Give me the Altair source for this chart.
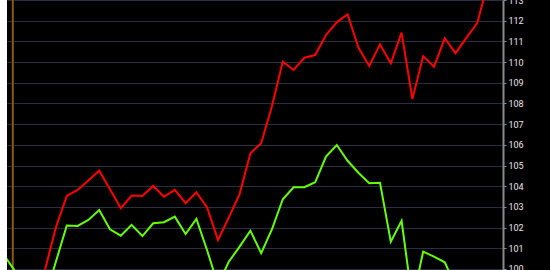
import altair as alt
import pandas as pd

# series values by index (index -5 .. 42)
idx = list(range(-5, 43))
red = [98.0, 97.8, 98.0, 98.5, 100.0,
       102.03, 103.53, 103.82, 104.28, 104.75, 103.85, 102.93, 103.55, 103.53, 104.01,
       103.49, 103.82, 103.18, 103.71, 102.96, 101.40, 102.48, 103.62, 105.59, 106.08,
       107.88, 110.02, 109.62, 110.21, 110.34, 111.31, 111.92, 112.31, 110.70, 109.81,
       110.86, 109.94, 111.42, 108.22, 110.29, 109.78, 111.15, 110.43, 111.17, 111.88,
       113.81, 114.3, 114.0]
green = [100.8, 100.05, 99.3, 98.9, 98.6,
         100.37, 102.10, 102.08, 102.37, 102.85, 101.92, 101.61, 102.13, 101.59, 102.21,
         102.26, 102.53, 101.69, 102.42, 100.89, 99.23, 100.35, 101.08, 101.85, 100.76,
         101.92, 103.37, 103.95, 103.95, 104.19, 105.43, 105.99, 105.23, 104.65, 104.14,
         104.17, 101.32, 102.33, 98.45, 100.84, 100.60, 100.32, 99.18, 98.8, 98.5,
         98.9, 99.2, 99.0]
y_ticks = list(range(100, 114))
marker_index = -4

df = pd.concat([
    pd.DataFrame({"i": idx, "v": red, "s": "A"}),
    pd.DataFrame({"i": idx, "v": green, "s": "B"}),
])

xs = alt.Scale(domain=[-4.537, 41.39], nice=False, zero=False)
ys = alt.Scale(domain=[99.95, 113.0], nice=False, zero=False)

edge = alt.Chart(alt.Data(values=[{"a": 1}])).mark_rect(color="white", clip=False).encode(
    x=alt.value(-7), x2=alt.value(0), y=alt.value(0), y2=alt.value(270)
)

rule = alt.Chart(pd.DataFrame({"i": [marker_index]})).mark_rule(
    color="#8a5a0c", strokeWidth=2
).encode(x=alt.X("i:Q", scale=xs, axis=None))

lines = alt.Chart(df).mark_line(strokeWidth=2, clip=True).encode(
    x=alt.X("i:Q", scale=xs, axis=None),
    y=alt.Y("v:Q", scale=ys, axis=alt.Axis(
        orient="right", values=y_ticks, title=None, grid=True,
        gridColor="#2a2e42", gridWidth=1, domainColor="#8a8a8a", domainWidth=2,
        tickColor="#8a8a8a", tickSize=3, labelColor="#e8e8e8", labelFontSize=9,
        labelFont="Roboto", labelPadding=2, labelFlush=False, labelOverlap=False)),
    color=alt.Color("s:N", scale=alt.Scale(domain=["A", "B"], range=["#ff0000", "#66ff00"]), legend=None),
)

chart = alt.layer(edge, rule, lines).properties(
    width=496, height=270,
    autosize=alt.AutoSizeParams(type="none"),
    padding={"left": 7, "top": 0, "right": 47, "bottom": 0},
    background="black",
).configure_view(stroke=None, fill="black")

chart.save("out.html", embed_options={"renderer": "svg", "actions": False})
